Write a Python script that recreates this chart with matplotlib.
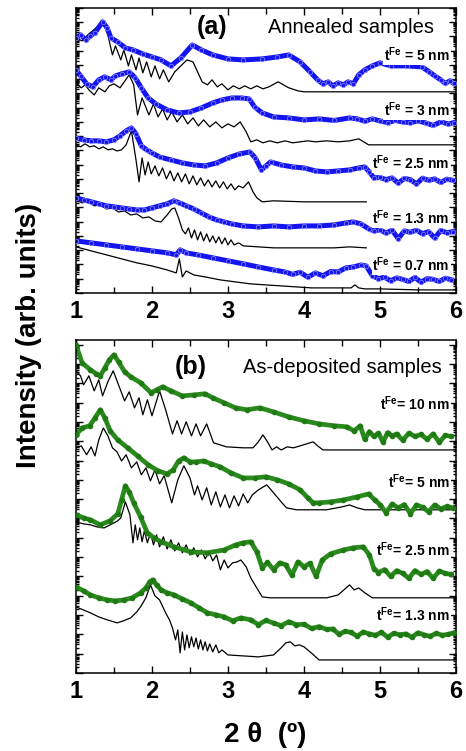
import numpy as np
import matplotlib
matplotlib.use("Agg")
import matplotlib.pyplot as plt
from matplotlib.ticker import LogLocator, NullFormatter, MultipleLocator

plt.rcParams["font.family"] = ["Liberation Sans", "DejaVu Sans"]
plt.rcParams["mathtext.fontset"] = "custom"
plt.rcParams["mathtext.rm"] = "Liberation Sans"
plt.rcParams["mathtext.bf"] = "Liberation Sans:bold"

# all intensities are given as log10(I), arbitrary units, curves shifted for clarity
# ---- (a) annealed samples ----
a_5nm_data_x = [1.00, 1.06, 1.13, 1.19, 1.25, 1.35, 1.41, 1.46, 1.55, 1.65, 1.75, 1.88, 2.00, 2.12, 2.25, 2.38,
                2.53, 2.65, 2.80, 3.00, 3.20, 3.45, 3.65, 3.80, 3.95, 4.08, 4.18, 4.25, 4.32, 4.38, 4.45, 4.52,
                4.58, 4.65, 4.72, 4.80, 4.90, 5.00, 5.15, 5.35, 5.55, 5.65, 5.72, 5.80, 5.86, 5.92, 5.97]
a_5nm_data_y = [17.89, 18.11, 17.75, 18.04, 18.25, 19.02, 18.60, 17.89, 17.61, 17.19, 17.05, 16.77, 16.56, 16.35,
                15.93, 16.49, 17.40, 17.05, 16.70, 16.42, 16.35, 16.42, 16.56, 16.70, 16.21, 15.51, 14.95, 14.67,
                14.81, 14.53, 14.74, 14.60, 14.81, 14.67, 15.30, 15.65, 15.93, 16.14, 15.93, 15.93, 15.86, 15.51,
                15.23, 14.95, 14.70, 14.88, 14.70]
a_5nm_fit_x = [1.00, 1.08, 1.17, 1.22, 1.35, 1.42, 1.48, 1.52, 1.59, 1.63, 1.69, 1.73, 1.79, 1.83, 1.88, 1.93,
               1.99, 2.04, 2.10, 2.15, 2.22, 2.30, 2.46, 2.54, 2.60, 2.66, 2.73, 2.79, 2.86, 2.92, 3.00, 3.07,
               3.15, 3.22, 3.30, 3.38, 3.46, 3.54, 3.66, 3.80, 3.92, 4.00, 6.00]
a_5nm_fit_y = [17.89, 17.68, 18.18, 18.39, 19.02, 18.11, 16.70, 17.33, 16.35, 17.05, 15.93, 16.70, 15.65, 16.49,
               15.44, 16.21, 15.16, 15.93, 15.02, 15.65, 14.81, 15.51, 16.35, 16.21, 15.51, 14.81, 14.60, 14.95,
               14.46, 14.67, 14.25, 14.53, 14.32, 14.53, 14.32, 14.53, 14.32, 14.46, 14.81, 14.39, 14.18, 14.11,
               14.11]

a_3nm_data_x = [1.00, 1.06, 1.14, 1.22, 1.30, 1.38, 1.46, 1.52, 1.60, 1.70, 1.78, 1.86, 1.95, 2.05, 2.20, 2.35,
                2.50, 2.65, 2.80, 2.92, 3.05, 3.18, 3.28, 3.35, 3.45, 3.60, 3.80, 4.00, 4.20, 4.40, 4.60, 4.70,
                4.80, 4.90, 5.00, 5.10, 5.20, 5.30, 5.40, 5.50, 5.60, 5.70, 5.80, 5.90, 5.97]
a_3nm_data_y = [15.65, 15.23, 14.67, 14.46, 14.95, 15.16, 14.95, 15.23, 15.37, 15.51, 15.09, 14.39, 13.68, 13.26,
                12.84, 12.63, 12.70, 12.98, 13.33, 13.54, 13.68, 13.68, 13.61, 13.05, 12.63, 12.35, 12.28, 12.14,
                12.21, 12.10, 12.28, 12.21, 12.05, 12.21, 12.07, 11.95, 12.10, 12.00, 11.95, 12.07, 11.93, 11.75,
                12.00, 11.85, 11.95]
a_3nm_fit_x = [1.00, 1.07, 1.12, 1.17, 1.24, 1.30, 1.38, 1.44, 1.50, 1.58, 1.70, 1.76, 1.81, 1.87, 1.96, 2.02,
               2.08, 2.14, 2.20, 2.26, 2.33, 2.40, 2.47, 2.54, 2.61, 2.68, 2.76, 2.84, 2.92, 3.00, 3.08, 3.16,
               3.24, 3.30, 3.38, 3.46, 3.55, 3.65, 3.75, 3.85, 3.95, 4.05, 4.15, 4.30, 4.45, 4.60, 4.72, 4.85, 6.00]
a_3nm_fit_y = [14.74, 14.39, 14.60, 14.25, 13.89, 14.39, 14.11, 14.53, 14.67, 14.39, 15.30, 14.60, 12.49, 13.68,
               12.49, 13.26, 12.35, 12.91, 12.14, 12.70, 12.00, 12.49, 11.86, 12.28, 11.72, 12.14, 11.65, 12.00,
               11.58, 11.86, 11.65, 12.00, 11.30, 10.60, 10.74, 10.53, 10.67, 10.53, 10.67, 10.53, 10.60, 10.67,
               10.60, 10.67, 10.60, 10.67, 10.81, 10.39, 10.39]

a_2p5nm_data_x = [1.00, 1.10, 1.20, 1.30, 1.40, 1.50, 1.58, 1.66, 1.73, 1.79, 1.86, 1.93, 2.00, 2.10, 2.25, 2.40,
                  2.55, 2.70, 2.85, 3.00, 3.15, 3.29, 3.36, 3.44, 3.50, 3.56, 3.70, 3.85, 4.00, 4.15, 4.30, 4.45,
                  4.60, 4.72, 4.80, 4.86, 4.92, 5.00, 5.08, 5.16, 5.24, 5.32, 5.40, 5.48, 5.56, 5.64, 5.72, 5.80,
                  5.88, 5.96]
a_2p5nm_data_y = [10.88, 10.74, 10.67, 10.67, 10.60, 10.74, 11.02, 11.37, 11.58, 11.16, 10.32, 10.04, 9.82, 9.54,
                  9.33, 9.12, 8.98, 8.91, 9.12, 9.47, 9.75, 9.89, 9.47, 8.63, 8.91, 9.19, 8.98, 8.84, 8.77, 8.56,
                  8.49, 8.56, 8.63, 8.77, 8.84, 8.49, 8.07, 8.10, 7.95, 8.07, 7.70, 8.03, 7.95, 7.65, 8.05, 7.90,
                  8.00, 7.75, 7.98, 7.90]
a_2p5nm_fit_x = [1.00, 1.06, 1.12, 1.18, 1.24, 1.30, 1.36, 1.42, 1.48, 1.54, 1.60, 1.66, 1.73, 1.79, 1.83, 1.87,
                 1.91, 1.95, 1.99, 2.04, 2.09, 2.14, 2.19, 2.24, 2.29, 2.34, 2.39, 2.44, 2.49, 2.54, 2.59, 2.64,
                 2.69, 2.74, 2.79, 2.84, 2.89, 2.94, 2.99, 3.04, 3.09, 3.14, 3.20, 3.27, 3.33, 3.38, 3.45, 3.60,
                 4.00, 4.40, 4.82]
a_2p5nm_fit_y = [10.39, 10.25, 10.46, 10.25, 10.32, 10.11, 10.25, 10.04, 10.11, 9.96, 10.04, 10.39, 11.37, 9.33,
                 7.79, 9.47, 8.28, 9.19, 8.35, 8.91, 8.21, 8.77, 8.00, 8.56, 7.86, 8.42, 7.79, 8.35, 7.65, 8.21,
                 7.58, 8.07, 7.51, 7.93, 7.44, 7.86, 7.37, 7.79, 7.30, 7.65, 7.23, 7.51, 7.37, 7.79, 7.09, 6.67,
                 6.39, 6.46, 6.39, 6.39, 6.39]

a_1p3nm_data_x = [1.00, 1.10, 1.20, 1.30, 1.40, 1.50, 1.60, 1.70, 1.80, 1.90, 2.00, 2.10, 2.20, 2.29, 2.36, 2.45,
                  2.55, 2.65, 2.75, 2.85, 2.95, 3.05, 3.20, 3.40, 3.60, 3.80, 4.00, 4.20, 4.40, 4.55, 4.65, 4.75,
                  4.85, 4.92, 5.00, 5.08, 5.16, 5.24, 5.32, 5.40, 5.48, 5.56, 5.64, 5.72, 5.80, 5.88, 5.96]
a_1p3nm_data_y = [6.67, 6.53, 6.39, 6.25, 6.11, 6.04, 5.96, 5.89, 5.82, 5.82, 5.96, 6.11, 6.25, 6.46, 6.32, 6.11,
                  5.89, 5.61, 5.33, 5.12, 4.98, 4.84, 4.70, 4.63, 4.70, 4.63, 4.70, 4.70, 4.77, 4.91, 4.98, 4.84,
                  4.50, 4.35, 4.42, 4.20, 4.40, 3.80, 4.35, 4.25, 4.40, 4.15, 4.30, 3.85, 4.38, 4.22, 4.30]
a_1p3nm_fit_x = [1.00, 1.08, 1.16, 1.24, 1.32, 1.40, 1.48, 1.56, 1.64, 1.72, 1.80, 1.88, 1.96, 2.04, 2.12, 2.20,
                 2.26, 2.30, 2.35, 2.40, 2.44, 2.48, 2.52, 2.56, 2.60, 2.64, 2.68, 2.72, 2.76, 2.80, 2.84, 2.88,
                 2.92, 2.96, 3.00, 3.04, 3.08, 3.14, 3.20, 3.40, 3.60, 3.80, 4.00, 4.20, 4.40, 4.60, 4.82]
a_1p3nm_fit_y = [6.53, 6.32, 6.39, 6.11, 6.18, 5.89, 5.96, 5.68, 5.75, 5.47, 5.54, 5.26, 5.33, 5.05, 4.98, 5.47,
                 5.89, 5.96, 5.26, 4.42, 4.14, 4.56, 3.86, 4.42, 3.72, 4.28, 3.65, 4.14, 3.58, 4.00, 3.51, 3.93,
                 3.44, 3.86, 3.37, 3.72, 3.37, 3.51, 3.30, 3.23, 3.16, 3.16, 3.16, 3.16, 3.16, 3.23, 3.16]

a_0p7nm_data_x = [1.00, 1.20, 1.40, 1.60, 1.80, 2.00, 2.20, 2.32, 2.37, 2.45, 2.60, 2.80, 3.00, 3.20, 3.40, 3.60,
                  3.75, 3.85, 3.95, 4.05, 4.15, 4.25, 4.35, 4.45, 4.55, 4.65, 4.75, 4.82, 4.90, 4.98, 5.06, 5.14,
                  5.22, 5.30, 5.38, 5.46, 5.54, 5.62, 5.70, 5.78, 5.86, 5.94]
a_0p7nm_data_y = [3.65, 3.51, 3.37, 3.23, 3.09, 2.95, 2.81, 2.67, 3.02, 2.81, 2.67, 2.46, 2.25, 2.04, 1.82, 1.61,
                  1.47, 1.30, 1.45, 1.10, 1.40, 1.20, 1.50, 1.47, 1.75, 1.82, 1.96, 1.89, 1.20, 1.00, 1.10, 0.85,
                  1.05, 0.95, 0.80, 1.08, 0.75, 1.00, 0.95, 0.80, 1.03, 0.92]
a_0p7nm_fit_x = [1.00, 1.20, 1.40, 1.60, 1.80, 2.00, 2.20, 2.32, 2.36, 2.40, 2.45, 2.55, 2.70, 2.90, 3.10, 3.30,
                 3.50, 3.70, 3.90, 4.10, 4.30, 4.50, 4.62, 4.67, 4.72, 4.80, 5.00, 5.50, 6.00]
a_0p7nm_fit_y = [3.23, 2.95, 2.67, 2.39, 2.11, 1.89, 1.61, 1.40, 2.39, 1.12, 1.54, 1.26, 1.12, 0.91, 0.77, 0.63,
                 0.56, 0.49, 0.42, 0.35, 0.35, 0.35, 0.35, 0.56, 0.35, 0.28, 0.28, 0.21, 0.21]

# ---- (b) as-deposited samples ----
b_10nm_data_x = [1.00, 1.08, 1.19, 1.27, 1.32, 1.38, 1.44, 1.50, 1.56, 1.64, 1.72, 1.85, 1.99, 2.06, 2.14, 2.25,
                 2.40, 2.55, 2.70, 2.80, 2.95, 3.10, 3.25, 3.42, 3.60, 3.80, 4.00, 4.20, 4.40, 4.56, 4.66, 4.74,
                 4.80, 4.86, 4.92, 4.98, 5.04, 5.10, 5.16, 5.22, 5.30, 5.38, 5.46, 5.54, 5.62, 5.70, 5.78, 5.86,
                 5.94]
b_10nm_data_y = [17.00, 16.06, 15.70, 15.49, 15.39, 15.80, 16.22, 16.48, 16.11, 15.60, 15.34, 15.03, 14.51, 14.66,
                 14.82, 14.61, 14.35, 14.40, 14.46, 14.25, 13.99, 13.73, 13.63, 13.73, 13.52, 13.26, 13.06, 12.90,
                 12.80, 12.75, 12.54, 12.80, 12.10, 12.50, 12.25, 12.42, 11.95, 12.45, 12.28, 12.38, 12.05, 12.42,
                 12.25, 12.35, 12.10, 12.38, 11.95, 12.30, 12.25]
b_10nm_fit_x = [1.00, 1.06, 1.10, 1.17, 1.24, 1.30, 1.35, 1.42, 1.49, 1.56, 1.64, 1.70, 1.77, 1.83, 1.88, 1.94,
                2.00, 2.10, 2.18, 2.27, 2.33, 2.39, 2.45, 2.52, 2.58, 2.64, 2.72, 2.81, 2.98, 3.20, 3.33, 3.40,
                3.46, 3.52, 3.58, 3.64, 3.70, 3.78, 3.86, 3.95, 4.04, 4.12, 4.18, 4.25, 6.00]
b_10nm_fit_y = [15.65, 15.39, 14.92, 15.39, 14.61, 15.18, 14.35, 15.08, 15.65, 14.92, 14.09, 14.56, 13.73, 14.25,
                13.37, 14.15, 13.32, 14.61, 13.63, 12.38, 13.06, 12.38, 13.01, 12.28, 12.90, 12.28, 12.90, 11.92,
                11.71, 11.66, 11.66, 11.97, 12.33, 11.97, 11.55, 11.71, 11.55, 11.71, 11.66, 11.76, 11.87, 11.97,
                11.76, 11.55, 11.55]

b_5nm_data_x = [1.00, 1.08, 1.18, 1.25, 1.32, 1.38, 1.45, 1.55, 1.68, 1.81, 1.95, 2.08, 2.20, 2.28, 2.35, 2.42,
                2.50, 2.58, 2.68, 2.78, 2.90, 3.04, 3.20, 3.35, 3.50, 3.65, 3.80, 3.95, 4.05, 4.12, 4.20, 4.35,
                4.52, 4.70, 4.85, 4.93, 5.00, 5.08, 5.16, 5.24, 5.32, 5.40, 5.48, 5.56, 5.64, 5.72, 5.80, 5.88, 5.96]
b_5nm_data_y = [12.33, 12.69, 12.80, 13.21, 13.63, 13.21, 12.54, 12.07, 11.66, 11.24, 10.78, 10.47, 10.31, 10.52,
                10.98, 11.14, 10.93, 10.93, 10.98, 10.83, 10.67, 10.36, 10.10, 10.10, 10.16, 10.00, 9.79, 9.48,
                9.07, 8.81, 8.81, 8.86, 8.96, 9.12, 9.27, 8.96, 8.72, 8.30, 8.75, 8.55, 8.72, 8.25, 8.70, 8.58,
                8.35, 8.70, 8.50, 8.62, 8.55]
b_5nm_fit_x = [1.00, 1.07, 1.14, 1.20, 1.25, 1.30, 1.36, 1.42, 1.48, 1.54, 1.60, 1.66, 1.73, 1.80, 1.86, 1.92,
               1.98, 2.04, 2.10, 2.16, 2.26, 2.34, 2.42, 2.50, 2.56, 2.60, 2.66, 2.72, 2.78, 2.84, 2.90, 2.96,
               3.02, 3.08, 3.14, 3.20, 3.26, 3.32, 3.40, 3.51, 3.60, 3.70, 3.77, 3.90, 4.10, 4.30, 4.50, 4.60,
               4.70, 4.80, 6.00]
b_5nm_fit_y = [11.66, 11.76, 11.30, 11.71, 11.24, 12.07, 12.69, 12.28, 11.66, 11.45, 10.98, 11.30, 10.62, 10.93,
               10.26, 10.62, 9.95, 10.52, 9.79, 10.21, 8.81, 10.00, 10.73, 10.10, 9.22, 9.69, 8.96, 9.59, 8.70,
               9.38, 8.60, 9.22, 8.55, 9.17, 8.65, 9.27, 8.81, 9.22, 9.48, 9.74, 9.33, 8.86, 8.55, 8.45, 8.45,
               8.45, 8.60, 8.70, 8.55, 8.45, 8.45]

b_2p5nm_data_x = [1.00, 1.10, 1.19, 1.32, 1.45, 1.55, 1.60, 1.65, 1.70, 1.76, 1.85, 1.94, 2.03, 2.12, 2.29, 2.51,
                  2.73, 2.95, 3.10, 3.20, 3.30, 3.38, 3.45, 3.52, 3.60, 3.68, 3.76, 3.84, 3.92, 4.00, 4.08, 4.16,
                  4.24, 4.35, 4.52, 4.65, 4.78, 4.86, 4.92, 4.98, 5.06, 5.14, 5.22, 5.30, 5.38, 5.46, 5.54, 5.62,
                  5.70, 5.78, 5.86, 5.94]
b_2p5nm_data_y = [8.19, 8.03, 7.93, 7.67, 7.88, 8.24, 8.96, 9.69, 9.38, 8.81, 8.08, 7.25, 6.99, 6.79, 6.53, 6.27,
                  6.22, 6.37, 6.63, 6.74, 6.79, 6.27, 5.45, 5.72, 5.35, 5.70, 5.60, 5.05, 5.75, 5.50, 5.68, 5.00,
                  5.85, 6.17, 6.37, 6.48, 6.53, 6.11, 5.40, 5.20, 5.35, 5.00, 5.30, 5.15, 4.90, 5.30, 5.10, 5.25,
                  4.90, 5.28, 5.15, 5.10]
b_2p5nm_fit_x = [1.00, 1.10, 1.19, 1.28, 1.37, 1.45, 1.50, 1.55, 1.59, 1.65, 1.71, 1.75, 1.78, 1.81, 1.84, 1.87,
                 1.90, 1.94, 1.98, 2.02, 2.06, 2.10, 2.15, 2.20, 2.25, 2.30, 2.35, 2.40, 2.45, 2.50, 2.55, 2.60,
                 2.65, 2.70, 2.75, 2.80, 2.85, 2.90, 2.95, 3.00, 3.06, 3.12, 3.17, 3.24, 3.30, 3.37, 3.45, 3.55,
                 3.70, 3.90, 4.10, 4.30, 4.45, 4.60, 4.66, 4.72, 4.80, 4.90, 6.00]
b_2p5nm_fit_y = [7.82, 7.72, 7.67, 7.56, 7.51, 7.67, 7.77, 7.88, 8.03, 8.86, 8.19, 6.74, 7.67, 6.89, 7.51, 6.79,
                 7.36, 6.74, 7.25, 6.63, 7.15, 6.53, 7.05, 6.42, 6.89, 6.32, 6.74, 6.22, 6.63, 6.11, 6.48, 6.01,
                 6.37, 5.91, 6.27, 5.80, 6.11, 5.34, 5.85, 5.44, 5.70, 5.75, 5.85, 5.49, 4.92, 4.46, 3.94, 3.89,
                 3.89, 3.89, 3.89, 3.89, 4.04, 4.56, 4.30, 4.40, 4.15, 3.89, 3.89]

b_1p3nm_data_x = [1.00, 1.10, 1.19, 1.30, 1.41, 1.52, 1.63, 1.74, 1.85, 1.92, 1.97, 2.01, 2.06, 2.12, 2.20, 2.29,
                  2.40, 2.51, 2.62, 2.73, 2.84, 2.95, 3.06, 3.17, 3.30, 3.40, 3.50, 3.60, 3.70, 3.80, 3.90, 4.00,
                  4.10, 4.20, 4.30, 4.38, 4.46, 4.54, 4.62, 4.70, 4.78, 4.86, 4.94, 5.02, 5.10, 5.18, 5.26, 5.34,
                  5.42, 5.50, 5.58, 5.66, 5.74, 5.82, 5.90, 5.97]
b_1p3nm_data_y = [4.46, 4.25, 4.04, 3.89, 3.78, 3.73, 3.78, 3.89, 4.15, 4.40, 4.72, 4.82, 4.56, 4.30, 4.15, 4.04,
                  3.83, 3.63, 3.37, 3.11, 3.01, 2.90, 2.70, 2.85, 2.75, 2.50, 2.72, 2.58, 2.45, 2.65, 2.50, 2.52,
                  2.30, 2.40, 2.25, 2.28, 2.00, 2.15, 2.10, 1.90, 2.12, 2.02, 1.95, 2.10, 1.85, 2.05, 1.98, 2.02,
                  1.85, 2.08, 1.97, 1.90, 2.05, 1.95, 2.00, 2.08]
b_1p3nm_fit_x = [1.00, 1.10, 1.19, 1.30, 1.41, 1.50, 1.54, 1.62, 1.72, 1.80, 1.85, 1.92, 1.98, 2.04, 2.10, 2.18,
                 2.23, 2.27, 2.31, 2.34, 2.37, 2.40, 2.43, 2.46, 2.49, 2.52, 2.55, 2.58, 2.61, 2.64, 2.67, 2.70,
                 2.73, 2.76, 2.80, 2.84, 2.88, 2.92, 3.00, 3.20, 3.40, 3.60, 3.70, 3.76, 3.82, 3.88, 3.94, 4.00,
                 4.08, 4.20, 6.00]
b_1p3nm_fit_y = [3.42, 3.26, 3.11, 2.90, 2.75, 2.64, 2.59, 2.69, 2.85, 3.16, 3.42, 3.89, 4.56, 3.99, 3.78, 3.11,
                 2.75, 2.33, 1.71, 2.23, 1.04, 2.12, 1.19, 1.97, 1.30, 1.87, 1.35, 1.81, 1.24, 1.71, 1.19, 1.61,
                 1.14, 1.50, 1.09, 1.45, 1.04, 1.19, 0.93, 0.88, 0.83, 0.93, 1.30, 1.55, 1.61, 1.40, 1.45, 1.35,
                 1.09, 0.67, 0.67]

a_labels = ["5 nm", "3 nm", "2.5 nm", "1.3 nm", "0.7 nm"]
a_label_y = [16.70, 12.84, 9.12, 5.26, 1.96]
b_labels = ["10 nm", "5 nm", "2.5 nm", "1.3 nm"]
b_label_y = [13.94, 9.90, 6.37, 3.01]

blue = "#1414f0"
green = "#2a8a1e"

fig = plt.figure(figsize=(4.66, 7.51), dpi=100)
ax_a = fig.add_axes([0.163, 0.610, 0.8155, 0.3795])
ax_b = fig.add_axes([0.163, 0.104, 0.8155, 0.4434])

a_sets = [(a_5nm_data_x, a_5nm_data_y, a_5nm_fit_x, a_5nm_fit_y),
          (a_3nm_data_x, a_3nm_data_y, a_3nm_fit_x, a_3nm_fit_y),
          (a_2p5nm_data_x, a_2p5nm_data_y, a_2p5nm_fit_x, a_2p5nm_fit_y),
          (a_1p3nm_data_x, a_1p3nm_data_y, a_1p3nm_fit_x, a_1p3nm_fit_y),
          (a_0p7nm_data_x, a_0p7nm_data_y, a_0p7nm_fit_x, a_0p7nm_fit_y)]
b_sets = [(b_10nm_data_x, b_10nm_data_y, b_10nm_fit_x, b_10nm_fit_y),
          (b_5nm_data_x, b_5nm_data_y, b_5nm_fit_x, b_5nm_fit_y),
          (b_2p5nm_data_x, b_2p5nm_data_y, b_2p5nm_fit_x, b_2p5nm_fit_y),
          (b_1p3nm_data_x, b_1p3nm_data_y, b_1p3nm_fit_x, b_1p3nm_fit_y)]

for dx, dy, fx, fy in a_sets:
    ax_a.plot(fx, 10.0 ** np.array(fy), color="black", lw=0.9, zorder=1)
    ax_a.plot(dx, 10.0 ** np.array(dy), color=blue, lw=3.6, solid_joinstyle="round", zorder=2)
    ax_a.plot(dx, 10.0 ** np.array(dy), "o", ms=3.2, mfc="none", mec="#7c7cff", mew=0.6, zorder=3)

for dx, dy, fx, fy in b_sets:
    ax_b.plot(fx, 10.0 ** np.array(fy), color="black", lw=0.9, zorder=1)
    ax_b.plot(dx, 10.0 ** np.array(dy), color=green, lw=3.4, solid_joinstyle="round", zorder=2)
    ax_b.plot(dx, 10.0 ** np.array(dy), "o", ms=3.0, color="#1f7a14", zorder=3)

for lab, yv in zip(a_labels, a_label_y):
    ax_a.text(0.984, 10.0 ** yv, r"$\mathbf{t^{Fe}}$ = " + lab, transform=ax_a.get_yaxis_transform(),
              ha="right", va="center", fontsize=10, fontweight="bold", zorder=5,
              bbox=dict(facecolor="white", edgecolor="none", pad=0.5))
for lab, yv in zip(b_labels, b_label_y):
    ax_b.text(0.984, 10.0 ** yv, r"$\mathbf{t^{Fe}}$= " + lab, transform=ax_b.get_yaxis_transform(),
              ha="right", va="center", fontsize=10, fontweight="bold", zorder=5,
              bbox=dict(facecolor="white", edgecolor="none", pad=0.5))

for ax, top in [(ax_a, 20.0), (ax_b, 17.25)]:
    ax.set_yscale("log")
    ax.set_ylim(1.0, 10.0 ** top)
    ax.set_xlim(1, 6)
    ax.yaxis.set_major_locator(LogLocator(base=10, numticks=40))
    ax.yaxis.set_minor_locator(LogLocator(base=10, subs=np.arange(2, 10) * 1.0, numticks=400))
    ax.yaxis.set_major_formatter(NullFormatter())
    ax.yaxis.set_minor_formatter(NullFormatter())
    ax.set_xticks([1, 2, 3, 4, 5, 6])
    ax.xaxis.set_minor_locator(MultipleLocator(0.5))
    ax.tick_params(which="both", direction="in", top=True, right=True, width=1.0)
    ax.tick_params(which="major", length=5)
    ax.tick_params(which="minor", length=2.5)
    ax.tick_params(axis="x", which="minor", length=4)
    ax.tick_params(axis="x", which="major", labelsize=17, pad=5)
    for t in ax.get_xticklabels():
        t.set_fontweight("bold")
    for s in ax.spines.values():
        s.set_linewidth(1.1)

fig.text(0.455, 0.964, "(a)", ha="center", va="center", fontsize=18, fontweight="bold")
fig.text(0.753, 0.964, "Annealed samples", ha="center", va="center", fontsize=14.5)
fig.text(0.410, 0.511, "(b)", ha="center", va="center", fontsize=18, fontweight="bold")
fig.text(0.734, 0.511, "As-deposited samples", ha="center", va="center", fontsize=14.5)

fig.text(0.062, 0.554, "Intensity (arb. units)", rotation=90, ha="center", va="center",
         fontsize=20, fontweight="bold")
fig.text(0.569, 0.021, "2 θ  (º)", ha="center", va="center", fontsize=20, fontweight="bold")

fig.savefig("out.png", dpi=100)
